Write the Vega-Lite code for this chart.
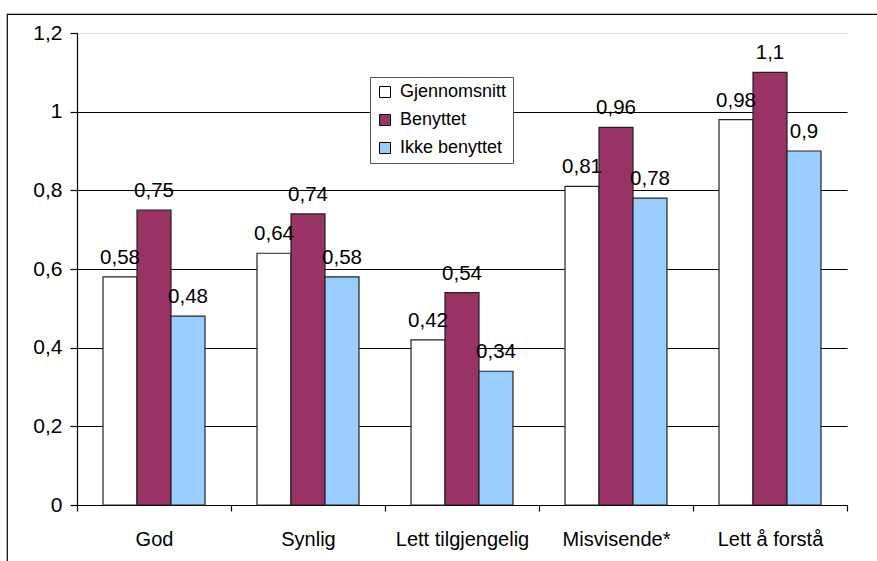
{
  "$schema": "https://vega.github.io/schema/vega-lite/v6.json",
  "width": 871,
  "height": 548,
  "autosize": {"type": "none"},
  "padding": {"left": 7, "top": 14, "right": 0, "bottom": 0},
  "background": "white",
  "config": {
    "locale": {"number": {"decimal": ",", "thousands": " ", "grouping": [3], "currency": ["", " kr"]}},
    "font": "Liberation Sans",
    "view": {"stroke": "black", "strokeWidth": 1.2}
  },
  "data": {
    "values": [
      {"kategori": "God", "gruppe": "Gjennomsnitt", "verdi": 0.58},
      {"kategori": "God", "gruppe": "Benyttet", "verdi": 0.75},
      {"kategori": "God", "gruppe": "Ikke benyttet", "verdi": 0.48},
      {"kategori": "Synlig", "gruppe": "Gjennomsnitt", "verdi": 0.64},
      {"kategori": "Synlig", "gruppe": "Benyttet", "verdi": 0.74},
      {"kategori": "Synlig", "gruppe": "Ikke benyttet", "verdi": 0.58},
      {"kategori": "Lett tilgjengelig", "gruppe": "Gjennomsnitt", "verdi": 0.42},
      {"kategori": "Lett tilgjengelig", "gruppe": "Benyttet", "verdi": 0.54},
      {"kategori": "Lett tilgjengelig", "gruppe": "Ikke benyttet", "verdi": 0.34},
      {"kategori": "Misvisende*", "gruppe": "Gjennomsnitt", "verdi": 0.81},
      {"kategori": "Misvisende*", "gruppe": "Benyttet", "verdi": 0.96},
      {"kategori": "Misvisende*", "gruppe": "Ikke benyttet", "verdi": 0.78},
      {"kategori": "Lett å forstå", "gruppe": "Gjennomsnitt", "verdi": 0.98},
      {"kategori": "Lett å forstå", "gruppe": "Benyttet", "verdi": 1.1},
      {"kategori": "Lett å forstå", "gruppe": "Ikke benyttet", "verdi": 0.9}
    ]
  },
  "encoding": {
    "x": {
      "field": "kategori",
      "type": "nominal",
      "sort": null,
      "scale": {"range": [70, 840], "paddingInner": 0, "paddingOuter": 0},
      "axis": {
        "orient": "bottom",
        "offset": -57,
        "title": null,
        "tickBand": "extent",
        "grid": false,
        "domainColor": "black",
        "domainWidth": 1.2,
        "tickColor": "black",
        "tickWidth": 1.2,
        "tickSize": 6,
        "labelAngle": 0,
        "labelFontSize": 20,
        "labelColor": "black",
        "labelPadding": 18
      }
    },
    "xOffset": {
      "field": "gruppe",
      "type": "nominal",
      "sort": ["Gjennomsnitt", "Benyttet", "Ikke benyttet"],
      "scale": {"paddingInner": 0, "paddingOuter": 0.765}
    },
    "y": {
      "field": "verdi",
      "type": "quantitative",
      "scale": {"domain": [0, 1.2], "range": [491, 19], "nice": false},
      "axis": {
        "orient": "left",
        "offset": -70,
        "title": null,
        "values": [0, 0.2, 0.4, 0.6, 0.8, 1, 1.2],
        "format": ".2~f",
        "grid": true,
        "gridColor": {"condition": {"test": "datum.value > 1.19", "value": "#DDDDDD"}, "value": "black"},
        "gridWidth": 1.2,
        "domainColor": "black",
        "domainWidth": 1.2,
        "tickColor": "black",
        "tickWidth": 1.2,
        "tickSize": 7,
        "labelFontSize": 21,
        "labelColor": "black",
        "labelPadding": 8
      }
    }
  },
  "layer": [
    {
      "mark": {"type": "bar", "stroke": "#222222", "strokeWidth": 1.2},
      "encoding": {
        "fill": {
          "field": "gruppe",
          "type": "nominal",
          "scale": {
            "domain": ["Gjennomsnitt", "Benyttet", "Ikke benyttet"],
            "range": ["#FFFFFF", "#993366", "#99CCFF"]
          },
          "legend": {
            "orient": "none",
            "legendX": 363,
            "legendY": 63,
            "title": null,
            "symbolType": "square",
            "symbolSize": 121,
            "symbolStrokeColor": "black",
            "symbolStrokeWidth": 1,
            "symbolOpacity": 1,
            "labelFontSize": 18,
            "labelColor": "black",
            "labelOffset": 6,
            "rowPadding": 10,
            "padding": 6,
            "strokeColor": "#555555",
            "fillColor": "white"
          }
        }
      }
    },
    {
      "mark": {"type": "text", "dy": -13, "baseline": "alphabetic", "fontSize": 20.5, "color": "black"},
      "encoding": {
        "text": {"field": "verdi", "type": "quantitative", "format": ".2~f"}
      }
    }
  ]
}
